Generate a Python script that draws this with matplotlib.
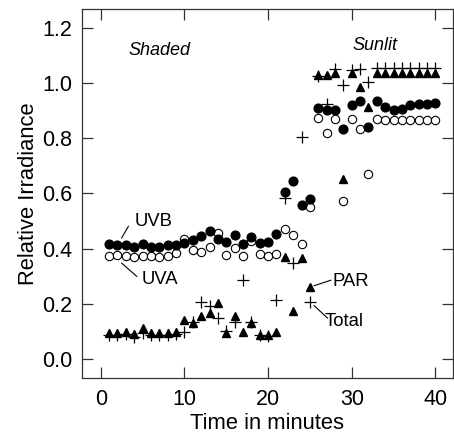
import matplotlib
matplotlib.use('Agg')
import matplotlib.pyplot as plt
import numpy as np

plt.rcParams['font.family'] = ['Liberation Sans', 'DejaVu Sans']

minutes = list(range(1, 41))

uvb = [0.417, 0.414, 0.414, 0.406, 0.418, 0.408, 0.408, 0.412, 0.414, 0.419,
       0.433, 0.445, 0.466, 0.436, 0.424, 0.449, 0.418, 0.441, 0.422, 0.426,
       0.453, 0.605, 0.646, 0.559, 0.581, 0.908, 0.904, 0.904, 0.834, 0.920,
       0.935, 0.841, 0.936, 0.912, 0.904, 0.907, 0.919, 0.925, 0.925, 0.929]

uva = [0.375, 0.376, 0.372, 0.370, 0.375, 0.372, 0.370, 0.373, 0.386, 0.434,
       0.394, 0.388, 0.405, 0.458, 0.378, 0.402, 0.375, 0.427, 0.381, 0.375,
       0.382, 0.470, 0.448, 0.417, 0.552, 0.872, 0.820, 0.870, 0.573, 0.871,
       0.833, 0.669, 0.870, 0.867, 0.867, 0.867, 0.867, 0.866, 0.866, 0.866]

par = [0.095, 0.096, 0.099, 0.092, 0.114, 0.094, 0.094, 0.094, 0.098, 0.141,
       0.130, 0.155, 0.169, 0.205, 0.096, 0.158, 0.100, 0.131, 0.089, 0.087,
       0.100, 0.371, 0.175, 0.367, 0.261, 1.030, 1.030, 1.035, 0.654, 1.037,
       0.987, 0.912, 1.037, 1.037, 1.037, 1.037, 1.037, 1.037, 1.037, 1.037]

total = [0.088, 0.088, 0.090, 0.081, 0.096, 0.088, 0.088, 0.088, 0.090, 0.100,
         0.134, 0.208, 0.194, 0.148, 0.101, 0.135, 0.288, 0.134, 0.086, 0.083,
         0.216, 0.584, 0.347, 0.806, 0.206, 1.027, 0.924, 1.049, 0.994, 1.047,
         1.049, 1.002, 1.053, 1.053, 1.053, 1.053, 1.054, 1.054, 1.055, 1.056]

fig = plt.figure(figsize=(4.54, 4.34), dpi=100)
ax = fig.add_axes([0.1806, 0.1297, 0.8172, 0.8489])

ax.plot(minutes, total, ls='none', marker='+', ms=8, mew=0.9, color='black')
ax.plot(minutes, par, ls='none', marker='^', ms=6, color='black')
ax.plot(minutes, uva, ls='none', marker='o', ms=6, mfc='white', mec='black', mew=0.8)
ax.plot(minutes, uvb, ls='none', marker='o', ms=6.3, color='black')

ax.set_xlim(-2.24, 42.1)
ax.set_ylim(-0.067, 1.267)
ax.set_xticks([0, 10, 20, 30, 40])
ax.set_yticks([0.0, 0.2, 0.4, 0.6, 0.8, 1.0, 1.2])
ax.yaxis.set_major_formatter(matplotlib.ticker.FormatStrFormatter('%.1f'))
ax.tick_params(direction='in', length=8, width=0.9, labelsize=15.5,
               top=True, right=True, color='#333333')
ax.tick_params(axis='x', pad=8)
ax.tick_params(axis='y', pad=7)
for s in ax.spines.values():
    s.set_linewidth(0.9)
    s.set_color('#333333')

ax.set_xlabel('Time in minutes', fontsize=15.8, labelpad=2)
ax.set_ylabel('Relative Irradiance', fontsize=15.8, labelpad=2.5)

# annotations
ax.text(4.1, 0.499, 'UVB', fontsize=13.3, va='center', ha='left')
ax.plot([2.5, 3.3], [0.439, 0.481], color='black', lw=0.8)
ax.text(4.9, 0.29, 'UVA', fontsize=13.3, va='center', ha='left')
ax.plot([2.5, 4.3], [0.348, 0.30], color='black', lw=0.8)
ax.text(27.7, 0.282, 'PAR', fontsize=13.3, va='center', ha='left')
ax.plot([25.5, 27.5], [0.266, 0.286], color='black', lw=0.8)
ax.text(26.7, 0.137, 'Total', fontsize=13.3, va='center', ha='left')
ax.plot([25.5, 27.1], [0.194, 0.149], color='black', lw=0.8)

ax.text(3.3, 1.119, 'Shaded', fontsize=13, style='italic', va='center', ha='left')
ax.text(30.1, 1.137, 'Sunlit', fontsize=13, style='italic', va='center', ha='left')

fig.savefig('out.png', dpi=100)
